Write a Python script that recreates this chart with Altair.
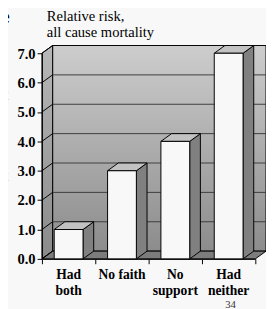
import altair as alt
import pandas as pd

# ---- data ----
categories = ["Had both", "No faith", "No support", "Had neither"]
label_lines = ["Had\nboth", "No faith", "No\nsupport", "Had\nneither"]
values = [1.0, 3.0, 4.0, 7.0]
y_ticks = [0.0, 1.0, 2.0, 3.0, 4.0, 5.0, 6.0, 7.0]
x_ticks = [0, 1, 2, 3, 4]
title_lines = ["Relative risk,", "all cause mortality"]
side_fragments = ["e", "rt", "rt", "d."]
page_number = "34"

# ---- geometry ----
W, H = 220, 212
XMAX, YMAX = 4.0, 7.0
DX = 11 / W * XMAX      # depth offset in x units
DY = 8 / H * YMAX       # depth offset in y units
BAR_L, BAR_R = 0.23, 0.77

SERIF = "Times New Roman, Liberation Serif, DejaVu Serif, serif"
SANS = "Liberation Sans"

xs = alt.Scale(domain=[0, XMAX], nice=False, zero=False)
ys = alt.Scale(domain=[0, YMAX], nice=False, zero=False)

AX = alt.Axis(values=x_ticks, labels=False, ticks=True, tickSize=5,
              tickColor="black", domainColor="black", grid=False, zindex=1)
AY = alt.Axis(values=y_ticks, format=".1f", tickSize=5, tickColor="black",
              domainColor="black", grid=False, labelFont=SERIF,
              labelFontWeight="bold", labelFontSize=15, labelColor="black",
              labelPadding=2, zindex=1)


def qx(f):
    return alt.X(f, type="quantitative", scale=xs, axis=AX, title=None)


def qy(f):
    return alt.Y(f, type="quantitative", scale=ys, axis=AY, title=None, stack=None)


wall_grad = alt.Gradient(
    gradient="linear",
    stops=[alt.GradientStop(color="#cdcdcd", offset=0),
           alt.GradientStop(color="#8c8c8c", offset=1)],
    x1=0, x2=0, y1=0, y2=1)
side_grad = alt.Gradient(
    gradient="linear",
    stops=[alt.GradientStop(color="#b8b8b8", offset=0),
           alt.GradientStop(color="#8a8a8a", offset=1)],
    x1=0, x2=0, y1=0, y2=1)

# back wall
back = alt.Chart(pd.DataFrame({"x": [DX], "x2": [XMAX + DX], "y": [DY], "y2": [YMAX + DY]})).mark_rect(
    fill=wall_grad, stroke="black", strokeWidth=1
).encode(x=qx("x"), x2="x2", y=qy("y"), y2="y2")

# left wall
left = alt.Chart(pd.DataFrame({"x": [0, DX], "y": [0, DY], "y2": [YMAX, YMAX + DY]})).mark_area(
    orient="vertical", fill=side_grad, stroke="black", strokeWidth=1
).encode(x=qx("x"), y=qy("y"), y2="y2")

# floor
floor = alt.Chart(pd.DataFrame({"y": [0, DY], "x": [0, DX], "x2": [XMAX, XMAX + DX]})).mark_area(
    orient="horizontal", fill="#7c7c7c", stroke="black", strokeWidth=1
).encode(y=qy("y"), x=qx("x"), x2="x2")

# gridlines on back wall
grid_vals = [v for v in y_ticks if 0 < v < YMAX]
back_grid = alt.Chart(pd.DataFrame({"y": [v + DY for v in grid_vals], "x": DX, "x2": XMAX + DX})).mark_rule(
    color="#3c3c3c", strokeWidth=1
).encode(x=qx("x"), x2="x2", y=qy("y"))

# slanted gridlines on left wall
left_grid = alt.Chart(pd.DataFrame({"x": 0.0, "x2": DX, "y": y_ticks, "y2": [v + DY for v in y_ticks]})).mark_rule(
    color="black", strokeWidth=1
).encode(x=qx("x"), x2="x2", y=qy("y"), y2="y2")

# bars: side faces, top faces, fronts
side_rows, top_rows, front_rows = [], [], []
for i, (c, v) in enumerate(zip(categories, values)):
    side_rows += [{"bar": c, "x": i + BAR_R, "y": 0.0, "y2": v},
                  {"bar": c, "x": i + BAR_R + DX, "y": DY, "y2": v + DY}]
    top_rows += [{"bar": c, "y": v, "x": i + BAR_L, "x2": i + BAR_R},
                 {"bar": c, "y": v + DY, "x": i + BAR_L + DX, "x2": i + BAR_R + DX}]
    front_rows.append({"bar": c, "x": i + BAR_L, "x2": i + BAR_R, "v": v, "y0": 0.0})

sides = alt.Chart(pd.DataFrame(side_rows)).mark_area(
    orient="vertical", fill="#808080", stroke="black", strokeWidth=1
).encode(x=qx("x"), y=qy("y"), y2="y2", detail="bar:N")

tops = alt.Chart(pd.DataFrame(top_rows)).mark_area(
    orient="horizontal", fill="#c2c2c2", stroke="black", strokeWidth=1
).encode(y=qy("y"), x=qx("x"), x2="x2", detail="bar:N")

fronts = alt.Chart(pd.DataFrame(front_rows)).mark_rect(
    fill="#f8f8f8", stroke="black", strokeWidth=1
).encode(x=qx("x"), x2="x2", y=qy("v"), y2="y0")

# category labels
xlab = alt.Chart(pd.DataFrame({"xc": [i + 0.5 for i in range(len(categories))], "t": label_lines})).mark_text(
    lineBreak="\n", lineHeight=16, font=SERIF, fontWeight="bold", fontSize=14,
    baseline="alphabetic", align="center", color="black"
).encode(x=qx("xc"), y=alt.value(233), text="t:N")

# title
title = alt.Chart(pd.DataFrame({"t": ["\n".join(title_lines)]})).mark_text(
    lineBreak="\n", lineHeight=16, font=SERIF, fontSize=15, baseline="alphabetic",
    align="left", color="black"
).encode(x=alt.value(5), y=alt.value(-33), text="t:N")

# cut-off slide text on the left
frag_e = alt.Chart(pd.DataFrame({"t": [side_fragments[0]]})).mark_text(
    font=SANS, fontSize=20, align="right", baseline="alphabetic", color="black"
).encode(x=alt.value(-33), y=alt.value(-30), text="t:N")
frag_rt1 = alt.Chart(pd.DataFrame({"t": [side_fragments[1]]})).mark_text(
    font=SANS, fontSize=16, align="right", baseline="alphabetic", color="black"
).encode(x=alt.value(-35), y=alt.value(48), text="t:N")
frag_rt2 = alt.Chart(pd.DataFrame({"t": [side_fragments[2]]})).mark_text(
    font=SANS, fontSize=16, align="right", baseline="alphabetic", color="black"
).encode(x=alt.value(-35), y=alt.value(132), text="t:N")
frag_d = alt.Chart(pd.DataFrame({"t": [side_fragments[3]]})).mark_text(
    font=SANS, fontSize=16, align="right", baseline="alphabetic", color="black"
).encode(x=alt.value(-35), y=alt.value(157), text="t:N")

pnum = alt.Chart(pd.DataFrame({"t": [page_number]})).mark_text(
    font=SERIF, fontSize=11, align="left", baseline="top", color="#333333"
).encode(x=alt.value(189), y=alt.value(254), text="t:N")

chart = alt.layer(
    back, left, floor, back_grid, left_grid, sides, tops, fronts,
    xlab, title, frag_e, frag_rt1, frag_rt2, frag_d, pnum
).properties(
    width=W, height=H,
    autosize=alt.AutoSizeParams(type="none"),
    padding={"left": 35, "top": 42, "right": 11, "bottom": 47},
    background="#f8f8f8",
).configure(font=SERIF).configure_view(stroke=None)

chart.save("out.html", embed_options={"renderer": "svg", "actions": False})
